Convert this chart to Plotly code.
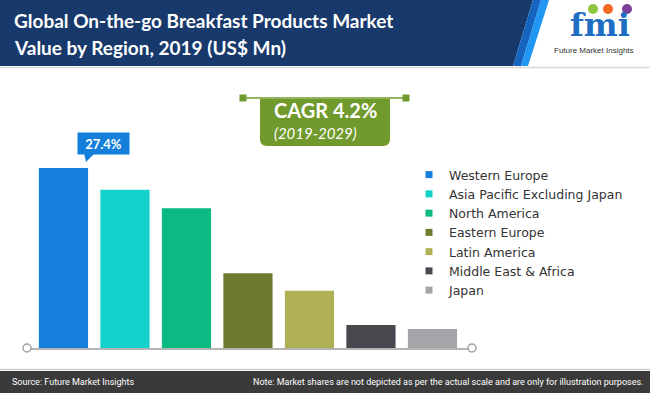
import plotly.graph_objects as go

W, H = 650, 393

regions = ["Western Europe", "Asia Pacific Excluding Japan", "North America",
           "Eastern Europe", "Latin America", "Middle East & Africa", "Japan"]
shares = [27.4, 24.1, 21.3, 11.4, 8.7, 3.5, 2.9]
colors = ["#1480DC", "#12D2CB", "#0BB982", "#707A2E", "#AFB055", "#48484F", "#A4A4A9"]
highlight_label = "27.4%"
cagr_label = "CAGR 4.2%"
cagr_period = "(2019-2029)"
title_lines = ["Global On-the-go Breakfast Products Market", "Value by Region, 2019 (US$ Mn)"]
source_text = "Source: Future Market Insights"
note_text = "Note: Market shares are not depicted as per the actual scale and are only for illustration purposes."


def px(x):
    return x / W


def py(y):
    return 1 - y / H


fig = go.Figure()
for i, (r, v, c) in enumerate(zip(regions, shares, colors)):
    fig.add_trace(go.Bar(x=[i], y=[v], name=r, marker=dict(color=c, line=dict(width=0)),
                         hoverinfo="name+y", showlegend=False, legendgroup=r))
    # legend entry with a small square key, as in the reference
    fig.add_trace(go.Scatter(x=[None], y=[None], mode="markers", name=r, legendgroup=r,
                             marker=dict(symbol="square", size=7, color=c), hoverinfo="skip"))

shapes = []
# header
shapes.append(dict(type="path", xref="paper", yref="paper",
                   path=f"M 0 {py(0)} L {px(533)} {py(0)} L {px(513)} {py(66)} L 0 {py(66)} Z",
                   fillcolor="#17396B", line=dict(width=0), layer="below"))
shapes.append(dict(type="path", xref="paper", yref="paper",
                   path=f"M {px(533)} {py(0)} L {px(541)} {py(0)} L {px(521)} {py(66)} L {px(513)} {py(66)} Z",
                   fillcolor="#1565C0", line=dict(width=0), layer="below"))
shapes.append(dict(type="path", xref="paper", yref="paper",
                   path=f"M {px(541)} {py(0)} L {px(549)} {py(0)} L {px(528)} {py(66)} L {px(521)} {py(66)} Z",
                   fillcolor="#2196F3", line=dict(width=0), layer="below"))
shapes.append(dict(type="line", xref="paper", yref="paper", x0=0, x1=1, y0=py(67.5), y1=py(67.5),
                   line=dict(color="#D8D8D8", width=1.5)))
# footer
shapes.append(dict(type="line", xref="paper", yref="paper", x0=0, x1=1, y0=py(369.5), y1=py(369.5),
                   line=dict(color="#D0D0D0", width=1.5)))
shapes.append(dict(type="rect", xref="paper", yref="paper", x0=0, x1=1, y0=py(371), y1=0,
                   fillcolor="#3A3A3A", line=dict(width=0)))
# axis end circles
for cx in (27, 472):
    shapes.append(dict(type="circle", xref="paper", yref="paper",
                       x0=px(cx - 4), x1=px(cx + 4), y0=py(348 + 4), y1=py(348 - 4),
                       fillcolor="white", line=dict(color="#A0A0A0", width=1.5)))
# 27.4% pointer
shapes.append(dict(type="path", xref="paper", yref="paper",
                   path=f"M {px(84)} {py(153)} L {px(95)} {py(153)} L {px(86)} {py(162)} Z",
                   fillcolor="#1480DC", line=dict(width=0)))
# CAGR box
shapes.append(dict(type="line", xref="paper", yref="paper", x0=px(243), x1=px(406), y0=py(98), y1=py(98),
                   line=dict(color="#709A2B", width=1.5)))
for sx in (243, 406):
    shapes.append(dict(type="rect", xref="paper", yref="paper", x0=px(sx - 3.5), x1=px(sx + 3.5),
                       y0=py(101.5), y1=py(94.5), fillcolor="#709A2B", line=dict(width=0)))
r = 7
shapes.append(dict(type="path", xref="paper", yref="paper",
                   path=(f"M {px(260)} {py(99)} L {px(390)} {py(99)} L {px(390)} {py(146 - r)} "
                         f"Q {px(390)} {py(146)} {px(390 - r)} {py(146)} L {px(260 + r)} {py(146)} "
                         f"Q {px(260)} {py(146)} {px(260)} {py(146 - r)} Z"),
                   fillcolor="#709A2B", line=dict(width=0)))
# logo circles
for cx, col in ((593, "#8DC63F"), (608, "#F26B21"), (627, "#7B3F98")):
    shapes.append(dict(type="circle", xref="paper", yref="paper",
                       x0=px(cx - 5), x1=px(cx + 5), y0=py(14), y1=py(4),
                       fillcolor=col, line=dict(width=0)))

annotations = [
    dict(xref="paper", yref="paper", x=px(12), y=py(21), xanchor="left", yanchor="middle",
         text=f"<b>{title_lines[0]}</b>", showarrow=False,
         font=dict(family="Lato", size=19, color="white")),
    dict(xref="paper", yref="paper", x=px(12), y=py(47), xanchor="left", yanchor="middle",
         text=f"<b>{title_lines[1]}</b>", showarrow=False,
         font=dict(family="Lato", size=19, color="white")),
    dict(xref="paper", yref="paper", x=px(600), y=py(25), xanchor="center", yanchor="middle",
         text="<b>fmi</b>", showarrow=False,
         font=dict(family="DejaVu Serif", size=32, color="#1E6FC4")),
    dict(xref="paper", yref="paper", x=px(594), y=py(50), xanchor="center", yanchor="middle",
         text="Future Market Insights", showarrow=False,
         font=dict(family="Liberation Sans", size=8, color="#333333")),
    dict(x=0, y=shares[0], xref="x", yref="y", xshift=40, yshift=24.5, text=f"<b>{highlight_label}</b>",
         showarrow=False, bgcolor="#1480DC", width=51, height=21, borderpad=0,
         font=dict(family="Lato", size=13, color="white")),
    dict(xref="paper", yref="paper", x=px(325), y=py(110), xanchor="center", yanchor="middle",
         text=f"<b>{cagr_label}</b>", showarrow=False,
         font=dict(family="Lato", size=20, color="white")),
    dict(xref="paper", yref="paper", x=px(272), y=py(133), xanchor="left", yanchor="middle",
         text=f"<i>{cagr_period}</i>", showarrow=False,
         font=dict(family="Lato", size=15, color="white")),
    dict(xref="paper", yref="paper", x=px(10), y=py(382), xanchor="left", yanchor="middle",
         text=source_text, showarrow=False,
         font=dict(family="Roboto", size=9, color="white")),
    dict(xref="paper", yref="paper", x=px(645), y=py(382), xanchor="right", yanchor="middle",
         text=note_text, showarrow=False,
         font=dict(family="Roboto", size=9, color="white")),
]

fig.update_layout(
    width=W, height=H,
    margin=dict(l=0, r=0, t=0, b=0),
    paper_bgcolor="white", plot_bgcolor="white",
    barmode="relative", bargap=0.2,
    showlegend=True,
    legend=dict(x=px(409), y=py(160), xanchor="left", yanchor="top",
                font=dict(family="DejaVu Sans", size=12.5, color="#333333"),
                bgcolor="rgba(0,0,0,0)", tracegroupgap=0, itemclick=False, itemdoubleclick=False),
    xaxis=dict(domain=[px(27), px(472)], range=[-0.593, 6.643], showticklabels=False,
               showgrid=False, zeroline=False, showline=True, linecolor="#B5B5B5", linewidth=1.5,
               ticks="", fixedrange=True),
    yaxis=dict(domain=[py(348), py(151)], range=[0, 30], showticklabels=False, showgrid=False,
               zeroline=False, showline=False, fixedrange=True),
    shapes=shapes,
    annotations=annotations,
)

fig.write_html("out.html", config={"displayModeBar": False},
               post_script="document.body.style.margin='0';document.body.style.padding='0';"
                           "document.body.style.overflow='hidden';")
